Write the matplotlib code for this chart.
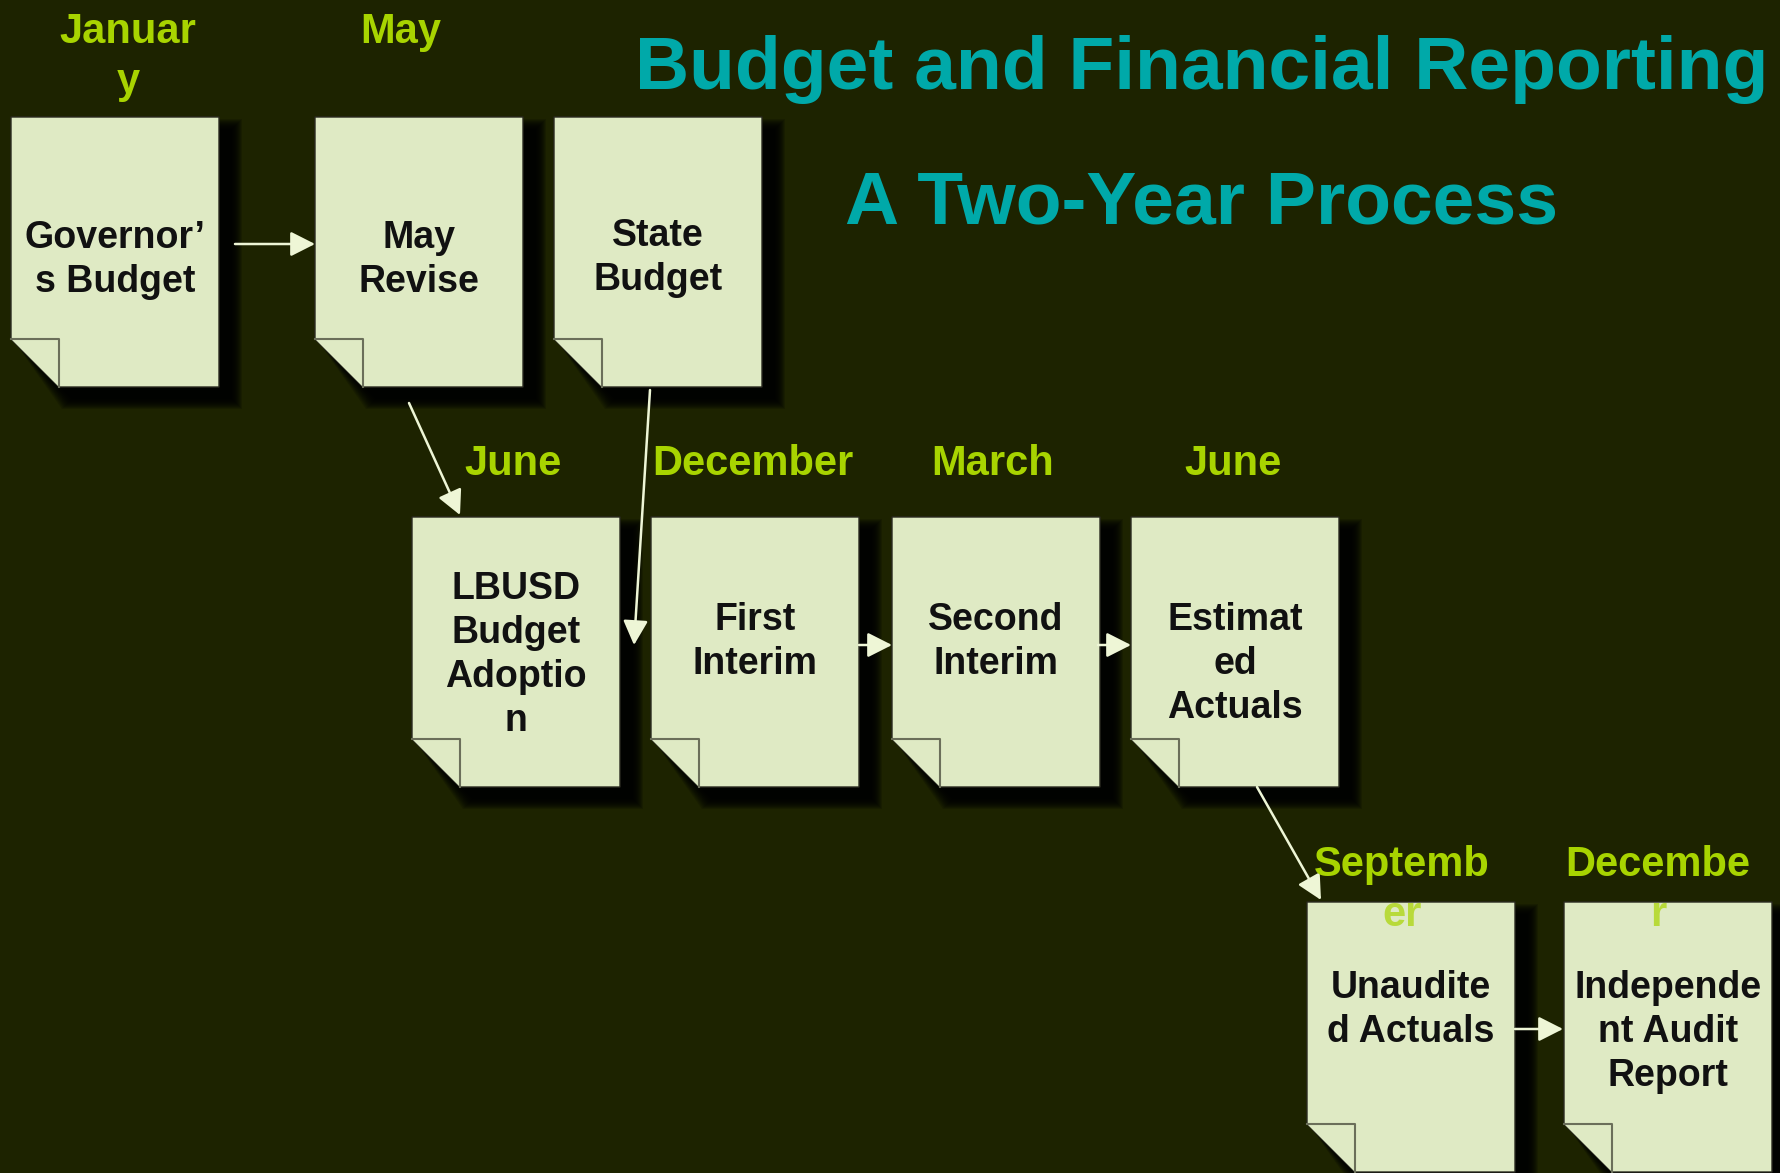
import matplotlib
matplotlib.use("Agg")
import matplotlib.pyplot as plt
from matplotlib.patches import Polygon, FancyArrowPatch

W, H = 1781, 1173

BG = "#1d2300"
PAPER = "#dfeac4"
MONTH_C = "#a8d400"
TITLE_C = "#00a9a9"
ARROW_C = "#eef6d6"
FONT = ["Liberation Sans", "DejaVu Sans"]

# documents: label lines, left, top, first baseline offset
doc_labels = [["Governor\u2019", "s Budget"], ["May", "Revise"], ["State", "Budget"],
              ["LBUSD", "Budget", "Adoptio", "n"], ["First", "Interim"],
              ["Second", "Interim"], ["Estimat", "ed", "Actuals"],
              ["Unaudite", "d Actuals"], ["Independe", "nt Audit", "Report"]]
doc_left = [11, 315, 554, 412, 651, 892, 1131, 1307, 1564]
doc_top = [117, 117, 117, 517, 517, 517, 517, 902, 902]
doc_text_off = [131, 131, 129, 82, 113, 113, 113, 96, 96]
DOC_W, DOC_H, FOLD = 208, 270, 48

# month labels above the documents
month_lines = [["Januar", "y"], ["May"], ["June"], ["December"], ["March"],
               ["June"], ["Septemb", "er"], ["Decembe", "r"]]
month_x = [128, 401, 513, 753, 993, 1233, 1402, 1658]
month_y = [43, 43, 475, 475, 475, 475, 876, 876]

# arrows (tail -> head)
arrows = [((235, 244), (315, 244)), ((409, 403), (460, 515)),
          ((650, 390), (634, 645)), ((859, 645), (892, 645)),
          ((1098, 645), (1131, 645)), ((1257, 787), (1321, 900)),
          ((1515, 1029), (1563, 1029))]

title_lines = ["Budget and Financial Reporting", "A Two-Year Process"]


def doc_shape(l, t, grow=0):
    r, b = l + DOC_W, t + DOC_H
    return [(l - grow, t - grow), (r + grow, t - grow), (r + grow, b + grow),
            (l + FOLD - grow, b + grow), (l - grow, b - FOLD - grow)]


fig = plt.figure(figsize=(W / 100, H / 100), dpi=100, facecolor=BG)
ax = fig.add_axes([0, 0, 1, 1])
ax.set_facecolor(BG)
ax.set_xlim(0, W)
ax.set_ylim(H, 0)
ax.axis("off")

for lines, l, t, off in zip(doc_labels, doc_left, doc_top, doc_text_off):
    # soft drop shadow
    for g in range(10, -1, -1):
        ax.add_patch(Polygon(doc_shape(l + 13, t + 12, g), closed=True,
                             facecolor="black", edgecolor="none",
                             alpha=0.17, zorder=1))
    ax.add_patch(Polygon(doc_shape(l, t), closed=True, facecolor=PAPER,
                         edgecolor="#2a2a20", lw=1, zorder=2))
    b = t + DOC_H
    ax.add_patch(Polygon([(l, b - FOLD), (l + FOLD, b - FOLD), (l + FOLD, b)],
                         closed=True, facecolor=PAPER, edgecolor="none", zorder=3))
    ax.plot([l, l + FOLD, l + FOLD], [b - FOLD, b - FOLD, b],
            color="#6b6f5a", lw=1.5, zorder=3)
    for i, s in enumerate(lines):
        ax.text(l + DOC_W / 2, t + off + i * 44, s, ha="center", va="baseline",
                fontsize=27, fontweight="bold", color="#111111",
                family=FONT, zorder=4)

for lines, x, y in zip(month_lines, month_x, month_y):
    for i, s in enumerate(lines):
        ax.text(x, y + i * 50, s, ha="center", va="baseline", fontsize=30,
                fontweight="bold", color=MONTH_C, family=FONT,
                alpha=1.0 if (i == 0 or y < 100) else 0.7, zorder=6)

for (x0, y0), (x1, y1) in arrows:
    ax.add_patch(FancyArrowPatch((x0, y0), (x1, y1),
                                 arrowstyle="-|>,head_length=0.75,head_width=0.38",
                                 mutation_scale=20, color=ARROW_C, lw=1.8,
                                 shrinkA=0, shrinkB=0, zorder=5))

for i, s in enumerate(title_lines):
    ax.text(1202, 89 + i * 134, s, ha="center", va="baseline", fontsize=54,
            fontweight="bold", color=TITLE_C, family=FONT, zorder=6)

fig.savefig("out.png", dpi=100, facecolor=BG)
